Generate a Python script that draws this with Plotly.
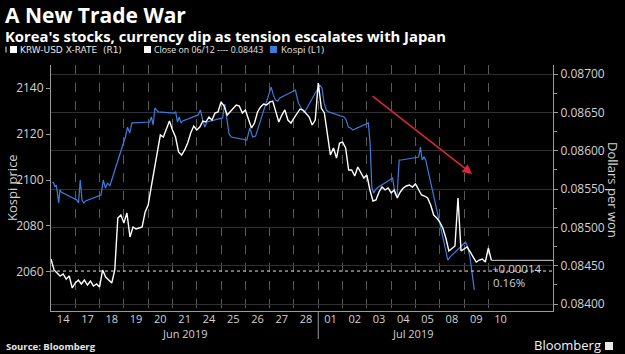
import plotly.graph_objects as go

# ---------------- data ----------------
days = ["14", "17", "18", "19", "20", "21", "24", "25", "26", "27", "28",
        "01", "02", "03", "04", "05", "08", "09", "10"]
month_labels = ["Jun 2019", "Jul 2019"]

# KRW-USD (dollars per won), sampled every 3 hours within each trading day
krw = [
    [0.084587, 0.084444, 0.084405, 0.084365, 0.084392, 0.084326, 0.084365, 0.084209],
    [0.084274, 0.084313, 0.084261, 0.084313, 0.084248, 0.084300, 0.084235, 0.084261],
    [0.084222, 0.084444, 0.084352, 0.084313, 0.084274, 0.084444, 0.085122, 0.085161],
    [0.085057, 0.085188, 0.084874, 0.085005, 0.084979, 0.084992, 0.085005, 0.085201],
    [0.085292, 0.085527, 0.085749, 0.086010, 0.086205, 0.086179, 0.086297, 0.086388],
    [0.086271, 0.086179, 0.085984, 0.085944, 0.086010, 0.086101, 0.086232, 0.086323],
    [0.086271, 0.086310, 0.086388, 0.086375, 0.086440, 0.086401, 0.086493, 0.086506],
    [0.086636, 0.086584, 0.086466, 0.086506, 0.086558, 0.086597, 0.086584, 0.086493],
    [0.086532, 0.086427, 0.086297, 0.086362, 0.086506, 0.086571, 0.086610, 0.086597],
    [0.086636, 0.086649, 0.086506, 0.086375, 0.086466, 0.086532, 0.086401, 0.086362],
    [0.086427, 0.086480, 0.086545, 0.086532, 0.086480, 0.086440, 0.086336, 0.086401],
    [0.086884, 0.086558, 0.086493, 0.086205, 0.085944, 0.086036, 0.085905, 0.086101],
    [0.086114, 0.086036, 0.085749, 0.085749, 0.085670, 0.085788, 0.085710, 0.085644],
    [0.085683, 0.085488, 0.085344, 0.085357, 0.085462, 0.085527, 0.085488, 0.085514],
    [0.085449, 0.085488, 0.085383, 0.085462, 0.085514, 0.085540, 0.085553, 0.085527],
    [0.085566, 0.085488, 0.085422, 0.085409, 0.085383, 0.085292, 0.085161, 0.085122],
    [0.085070, 0.084992, 0.084861, 0.084692, 0.084731, 0.084757, 0.085383, 0.084692],
    [0.084718, 0.084744, 0.084679, 0.084613, 0.084548, 0.084574, 0.084587, 0.084548],
    [0.084731, 0.084570],
]

# Kospi intraday points during each trading session
kospi = [
    [2099.1, 2098.7, 2097.0, 2097.8, 2094.3, 2090.0, 2095.7, 2094.8],
    [2091.3, 2090.0, 2100.0, 2091.3, 2090.0, 2090.9],
    [2093.5, 2100.0, 2096.5, 2098.7, 2097.4],
    [2118.7, 2123.0, 2120.4, 2124.8, 2124.8],
    [2125.2, 2127.4, 2123.9, 2131.3, 2130.4, 2129.6],
    [2129.1, 2129.6, 2125.2, 2127.4, 2124.8, 2125.7],
    [2128.3, 2130.4, 2126.1, 2123.0, 2125.2],
    [2127.0, 2133.0, 2127.4, 2120.0, 2118.7],
    [2117.4, 2122.6, 2118.7, 2119.1],
    [2140.4, 2137.0, 2134.8, 2134.3, 2135.7],
    [2139.1, 2133.5, 2131.3, 2129.1],
    [2141.3, 2140.0, 2133.5, 2130.4, 2129.6],
    [2127.4, 2126.1, 2123.0, 2122.6, 2121.7],
    [2124.8, 2116.1, 2097.0, 2094.3, 2095.7, 2096.5],
    [2100.9, 2094.3, 2092.6, 2108.7, 2108.7],
    [2109.6, 2110.0, 2114.3, 2108.7, 2110.0, 2108.7],
    [2078.3, 2073.9, 2068.3, 2065.2, 2066.5],
    [2073.0, 2070.9, 2066.5, 2059.6, 2052.2],
    [],
]

close_0612 = 0.08443
last_change = "+0.00014"
last_pct = "0.16%"
left_ticks = [2060, 2080, 2100, 2120, 2140]
right_ticks = [0.08400, 0.08450, 0.08500, 0.08550, 0.08600, 0.08650, 0.08700]

# ---------------- build series ----------------
x_krw, y_krw = [], []
for i, vals in enumerate(krw):
    for k, v in enumerate(vals):
        x_krw.append(i + k / 8)
        y_krw.append(v)

SESSION_START, SESSION_LEN = 0.06, 0.36
x_ks, y_ks = [], []
for i, vals in enumerate(kospi):
    n = len(vals)
    for k, v in enumerate(vals):
        x_ks.append(i + SESSION_START + SESSION_LEN * k / max(n - 1, 1))
        y_ks.append(v)

# ---------------- layout helpers (pixel -> paper) ----------------
L, R, T, B = 51, 553, 65, 311
W, H = 625, 354


def px(x):
    return (x - L) / (R - L)


def py(y):
    return (B - y) / (B - T)


FONT = "Open Sans"
LEGFONT = "DejaVu Sans"
GRAY = "#9a9a9a"
TXT = "#d2d2d2"

fig = go.Figure()
fig.add_trace(go.Scatter(x=x_ks, y=y_ks, mode="lines", yaxis="y",
                         line=dict(color="#3b7ddd", width=1.2), name="Kospi (L1)"))
fig.add_trace(go.Scatter(x=x_krw, y=y_krw, mode="lines", yaxis="y2",
                         line=dict(color="#ffffff", width=1.4), name="KRW-USD X-RATE (R1)"))

xmax = 20.66
fig.update_layout(
    width=W, height=H,
    paper_bgcolor="black", plot_bgcolor="black",
    margin=dict(l=L, r=W - R, t=T, b=H - B, pad=0),
    showlegend=False,
    font=dict(family=FONT, color=TXT, size=11),
    xaxis=dict(
        range=[0, xmax], tickmode="array",
        tickvals=[i + 0.5 for i in range(len(days))], ticktext=days,
        showgrid=False, zeroline=False, showline=True, linecolor=GRAY,
        ticks="", tickfont=dict(size=11, color=TXT), ticklabelstandoff=-2,
        minor=dict(tickmode="array", tickvals=list(range(1, len(days))),
                   showgrid=True, gridcolor="#5a5a5a", griddash="dash", gridwidth=1, ticks=""),
    ),
    yaxis=dict(
        range=[2043.04, 2150.0], tickmode="array", tickvals=left_ticks,
        showgrid=False, zeroline=False, showline=True, linecolor=GRAY,
        ticks="outside", ticklen=4, tickcolor=GRAY, tickfont=dict(size=12, color=TXT),
    ),
    yaxis2=dict(
        overlaying="y", side="right", anchor="x",
        range=[0.0839087, 0.087119], tickmode="array", tickvals=right_ticks,
        tickformat=".5f", showgrid=True, gridcolor="#303030", gridwidth=1,
        zeroline=False, showline=True, linecolor=GRAY,
        ticks="outside", ticklen=4, tickcolor=GRAY, tickfont=dict(size=12, color=TXT),
        minor=dict(tickmode="array",
                   tickvals=[0.08425, 0.08475, 0.08525, 0.08575, 0.08625, 0.08675],
                   ticks="outside", ticklen=3, tickcolor=GRAY, showgrid=False),
    ),
)

LEG_Y = 49.5
shapes = []
# Close on 06/12 dotted reference line
shapes.append(dict(type="line", xref="paper", yref="y2", x0=0, x1=1,
                   y0=close_0612, y1=close_0612,
                   line=dict(color="#e0e0e0", width=1, dash="dot")))
# last value line
last_x = x_krw[-1]
last_v = y_krw[-1]
shapes.append(dict(type="line", xref="x", yref="y2", x0=last_x, x1=xmax,
                   y0=last_v, y1=last_v, line=dict(color="#cfcfcf", width=1)))
# month separator
shapes.append(dict(type="line", xref="x", yref="paper", x0=11, x1=11,
                   y0=0, y1=py(339), line=dict(color=GRAY, width=1)))
# Bloomberg icon
shapes.append(dict(type="rect", xref="paper", yref="paper",
                   x0=px(605), x1=px(613), y0=py(350), y1=py(342),
                   fillcolor="#e8e8e8", line=dict(width=0)))
# small legend handle icon
shapes.append(dict(type="rect", xref="paper", yref="paper",
                   x0=px(5), x1=px(7), y0=py(LEG_Y + 3), y1=py(LEG_Y - 3),
                   fillcolor="#777", line=dict(width=0)))
# legend colour squares
for x0, col in [(10, "#ffffff"), (144, "#ffffff"), (270, "#3b7ddd")]:
    shapes.append(dict(type="rect", xref="paper", yref="paper",
                       x0=px(x0), x1=px(x0 + 7), y0=py(LEG_Y + 3.5), y1=py(LEG_Y - 3.5),
                       fillcolor=col, line=dict(width=0)))
fig.update_layout(shapes=shapes)

ann = []
ann.append(dict(text="<b><span style='font-size:21px'>A New Trade War</span><br>"
                     "Korea's stocks, currency dip as tension escalates with Japan</b>",
                xref="paper", yref="paper", x=px(3), y=py(-1.5), xanchor="left", yanchor="top",
                align="left", showarrow=False,
                font=dict(family=FONT, size=14.8, color="white")))
legend_items = [
    (18, "KRW-USD X-RATE  (R1)", LEGFONT, 9.0),
    (152, "Close on 06/12 ---- 0.08443", FONT, 8.8),
    (279, "Kospi (L1)", FONT, 9.6),
]
for xpix, label, fam, size in legend_items:
    ann.append(dict(text=label,
                    xref="paper", yref="paper", x=px(xpix), y=py(LEG_Y),
                    xanchor="left", yanchor="middle", showarrow=False,
                    font=dict(family=fam, size=size, color="#e6e6e6")))
ann.append(dict(text="Kospi price", xref="paper", yref="paper", x=px(12), y=py(188),
                textangle=-90, xanchor="center", yanchor="middle", showarrow=False,
                font=dict(family=FONT, size=13, color=TXT)))
ann.append(dict(text="Dollars per won", xref="paper", yref="paper", x=px(613), y=py(190),
                textangle=90, xanchor="center", yanchor="middle", showarrow=False,
                font=dict(family=FONT, size=13, color=TXT)))
ann.append(dict(text=month_labels[0], xref="x", yref="paper", x=5.5, y=py(333),
                xanchor="center", yanchor="middle", showarrow=False,
                font=dict(family=FONT, size=11, color=TXT)))
ann.append(dict(text=month_labels[1], xref="x", yref="paper", x=14.9, y=py(333),
                xanchor="center", yanchor="middle", showarrow=False,
                font=dict(family=FONT, size=11, color=TXT)))
ann.append(dict(text=last_change, xref="paper", yref="paper", x=px(490), y=py(268),
                xanchor="left", yanchor="middle", showarrow=False,
                font=dict(family=FONT, size=11.5, color=TXT)))
ann.append(dict(text=last_pct, xref="paper", yref="paper", x=px(491), y=py(282),
                xanchor="left", yanchor="middle", showarrow=False,
                font=dict(family=FONT, size=11.5, color=TXT)))
ann.append(dict(text="<b>Source: Bloomberg</b>", xref="paper", yref="paper", x=px(4), y=py(346),
                xanchor="left", yanchor="middle", showarrow=False,
                font=dict(family=FONT, size=9.5, color="#e6e6e6")))
ann.append(dict(text="Bloomberg", xref="paper", yref="paper", x=px(603), y=py(345),
                xanchor="right", yanchor="middle", showarrow=False,
                font=dict(family=FONT, size=13, color="#f0f0f0")))
# red trend arrow
ann.append(dict(text="", x=17.33, y=2102.6, xref="x", yref="y",
                ax=13.17, ay=2137.0, axref="x", ayref="y",
                showarrow=True, arrowhead=2, arrowsize=1.2, arrowwidth=1.6,
                arrowcolor="#d8263c"))
fig.update_layout(annotations=ann)

fig.write_html("out.html")
